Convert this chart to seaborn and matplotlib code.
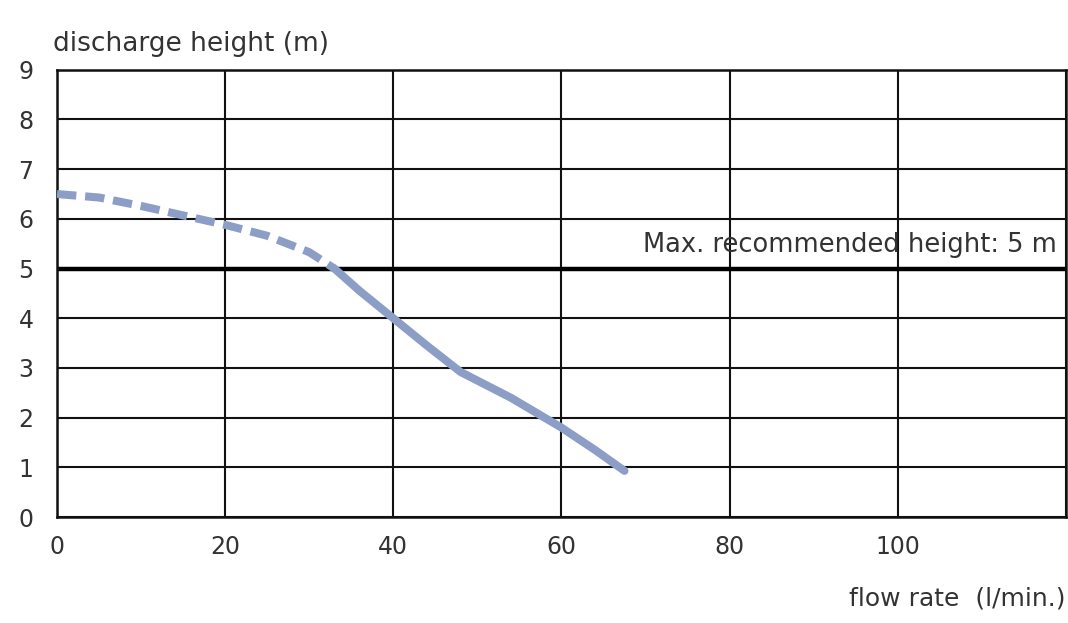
import matplotlib
matplotlib.use("Agg")
import matplotlib.pyplot as plt
import seaborn as sns
import pandas as pd

# Data
dashed_flow = [0, 5, 10, 15, 20, 25, 30, 33]
dashed_height = [6.5, 6.43, 6.26, 6.07, 5.88, 5.66, 5.33, 5.0]
solid_flow = [33, 36, 40, 44, 48, 54, 60, 64, 67.5]
solid_height = [5.0, 4.55, 4.0, 3.45, 2.92, 2.4, 1.8, 1.35, 0.93]
x_ticks = [0, 20, 40, 60, 80, 100]
y_ticks = [0, 1, 2, 3, 4, 5, 6, 7, 8, 9]
max_height = 5
max_label = "Max. recommended height: 5 m"
x_label = "flow rate  (l/min.)"
y_label = "discharge height (m)"

sns.set_style("white")
plt.rcParams['font.family'] = ['DejaVu Sans']

fig = plt.figure(figsize=(10.68, 6.23), dpi=100)
ax = fig.add_axes([0.0534, 0.170, 0.9446, 0.718])

curve_color = "#8d9ec6"
df_d = pd.DataFrame({"flow": dashed_flow, "height": dashed_height})
df_s = pd.DataFrame({"flow": solid_flow, "height": solid_height})

ax.set_xlim(0, 120)
ax.set_ylim(0, 9)
ax.set_xticks([0, 20, 40, 60, 80, 100, 120])
ax.set_yticks(y_ticks)
ax.grid(True, color="#111111", linewidth=1.5)
ax.set_axisbelow(True)
for s in ax.spines.values():
    s.set_color("#111111")
    s.set_linewidth(1.8)

ax.axhline(max_height, color="black", linewidth=3.2, zorder=2)

sns.lineplot(data=df_d, x="flow", y="height", ax=ax, color=curve_color,
             linewidth=5.8, linestyle=(0, (2.4, 1.1)), zorder=3)
sns.lineplot(data=df_s, x="flow", y="height", ax=ax, color=curve_color,
             linewidth=5.8, zorder=3, solid_capstyle="round")

ax.set_xticklabels([str(t) for t in x_ticks] + [""])
ax.tick_params(axis="both", length=0, labelsize=17, labelcolor="#333333")
ax.tick_params(axis="x", pad=13)
ax.tick_params(axis="y", pad=17)
ax.set_xlabel("")
ax.set_ylabel("")

ax.text(118.9, 5.48, max_label, ha="right", va="center", fontsize=18.5, color="#333333", zorder=4)
fig.text(0.050, 0.930, y_label, ha="left", va="center", fontsize=19, color="#333333")
fig.text(0.998, 0.040, x_label, ha="right", va="center", fontsize=18, color="#333333")

fig.savefig("out.png", dpi=100)
